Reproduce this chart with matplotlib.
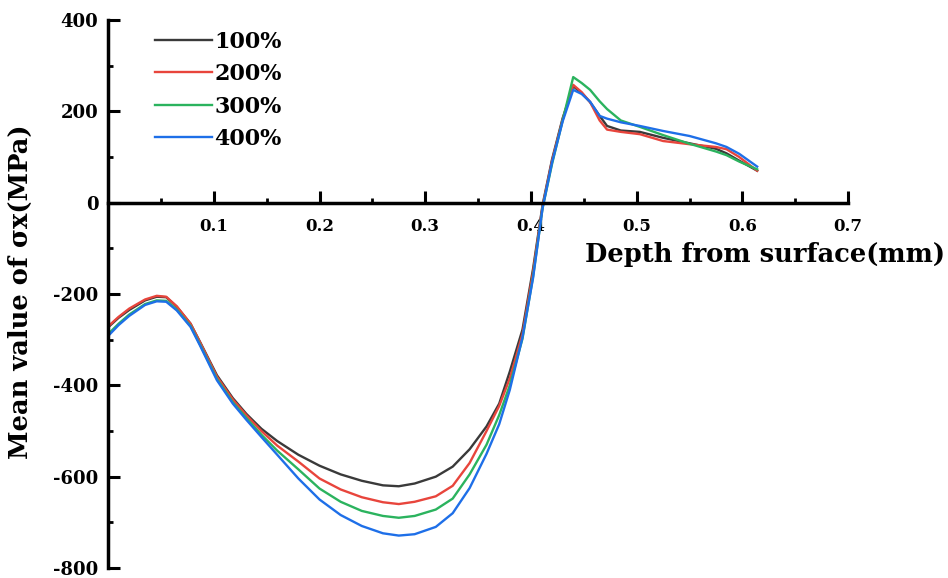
import matplotlib
matplotlib.use("Agg")
import matplotlib.pyplot as plt
from matplotlib.ticker import MultipleLocator, FixedLocator

plt.rcParams["font.family"] = "DejaVu Serif"
plt.rcParams["font.weight"] = "bold"

# depth (mm) shared by all four curves
depth = [0, 0.01, 0.02, 0.035, 0.046, 0.055, 0.065, 0.078, 0.087, 0.103,
         0.118, 0.131, 0.145, 0.16, 0.18, 0.2, 0.22, 0.24, 0.26, 0.275,
         0.29, 0.31, 0.326, 0.342, 0.358, 0.37, 0.38, 0.392, 0.402, 0.411,
         0.42, 0.43, 0.44, 0.448, 0.456, 0.465, 0.472, 0.485, 0.503, 0.525,
         0.55, 0.575, 0.585, 0.597, 0.614]

s100 = [-273, -252, -235, -214, -206, -207, -228, -265, -305, -378,
        -428, -463, -495, -522, -552, -576, -595, -609, -619, -621,
        -615, -600, -578, -540, -490, -440, -370, -278, -145, -5,
        95, 185, 255, 240, 220, 190, 168, 158, 155, 142,
        130, 118, 108, 92, 70]
s200 = [-271, -250, -232, -212, -204, -206, -227, -265, -306, -381,
        -431, -466, -500, -532, -567, -604, -628, -645, -656, -660,
        -655, -643, -620, -570, -500, -445, -385, -288, -152, -8,
        92, 182, 258, 242, 220, 180, 160, 155, 150, 135,
        128, 122, 117, 100, 70]
s300 = [-288, -265, -245, -222, -214, -215, -234, -270, -311, -386,
        -437, -472, -508, -543, -584, -626, -655, -675, -686, -690,
        -686, -672, -648, -595, -530, -465, -400, -298, -162, -12,
        85, 180, 275, 262, 247, 222, 205, 180, 166, 148,
        129, 112, 104, 90, 73]
s400 = [-292, -268, -248, -224, -216, -217, -236, -272, -313, -389,
        -440, -476, -513, -552, -604, -650, -684, -708, -724, -729,
        -726, -710, -680, -625, -550, -485, -410, -295, -165, -12,
        88, 178, 247, 238, 221, 190, 184, 176, 168, 157,
        146, 130, 122, 107, 79]

labels = ["100%", "200%", "300%", "400%"]
colors = ["#3a3a3a", "#e8453c", "#2bb35e", "#1e6fe8"]

yticks = [-800, -600, -400, -200, 0, 200, 400]
ytick_labels = ["-800", "-600", "-400", "-200", "0", "200", "400"]
xticks = [0.1, 0.2, 0.3, 0.4, 0.5, 0.6, 0.7]
xtick_labels = ["0.1", "0.2", "0.3", "0.4", "0.5", "0.6", "0.7"]

fig = plt.figure(figsize=(9.48, 5.78), dpi=100)
ax = fig.add_axes([0.114, 0.0173, 0.7806, 0.9481])

for ys, lab, c in zip([s100, s200, s300, s400], labels, colors):
    ax.plot(depth, ys, color=c, lw=1.7, label=lab)

ax.set_xlim(0, 0.7)
ax.set_ylim(-800, 400)

ax.spines["top"].set_visible(False)
ax.spines["right"].set_visible(False)
ax.spines["bottom"].set_position(("data", 0))
ax.spines["left"].set_linewidth(2.5)
ax.spines["bottom"].set_linewidth(2.5)

ax.yaxis.set_major_locator(FixedLocator(yticks))
ax.set_yticklabels(ytick_labels)
ax.yaxis.set_minor_locator(MultipleLocator(100))
ax.xaxis.set_major_locator(FixedLocator(xticks))
ax.set_xticklabels(xtick_labels)
ax.xaxis.set_minor_locator(MultipleLocator(0.05))

ax.tick_params(axis="both", which="major", direction="in", length=8.5, width=2.2)
ax.tick_params(axis="both", which="minor", direction="in", length=3.5, width=2)
ax.tick_params(axis="y", which="major", labelsize=13, pad=7)
ax.tick_params(axis="x", which="major", labelsize=12, pad=11)

fig.text(0.997, 0.56, "Depth from surface(mm)", ha="right", va="center",
         fontsize=18.5, fontweight="bold")
fig.text(0.022, 0.495, "Mean value of σx(MPa)", ha="center", va="center",
         rotation=90, fontsize=18.5, fontweight="bold")

ax.legend(loc="upper left", bbox_to_anchor=(0.163, 0.947), bbox_transform=fig.transFigure,
          frameon=False, fontsize=16, handlelength=2.57, handletextpad=0.12,
          labelspacing=0.47, borderaxespad=0, borderpad=0)

fig.savefig("out.png", dpi=100)
